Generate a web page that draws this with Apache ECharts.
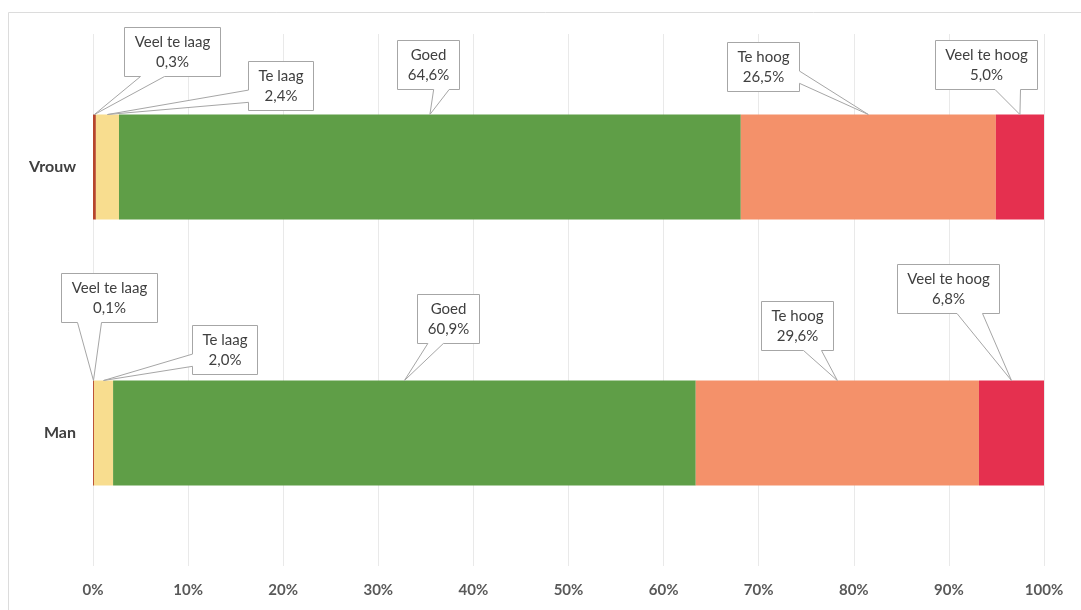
<!DOCTYPE html>
<html>
<head>
<meta charset="utf-8">
<script src="https://cdn.jsdelivr.net/npm/echarts@6/dist/echarts.min.js"></script>
<style>
  html, body { margin: 0; padding: 0; background: #ffffff; }
  #chart { width: 1081px; height: 610px; }
</style>
</head>
<body>
<div id="chart"></div>
<script>
// Share of respondents per level, by sex (percent)
const categories = ['Vrouw', 'Man'];
const levels = ['Veel te laag', 'Te laag', 'Goed', 'Te hoog', 'Veel te hoog'];
const vrouw = [0.3, 2.4, 64.6, 26.5, 5.0];
const man = [0.1, 2.0, 60.9, 29.6, 6.8];
const rows = [vrouw, man];

const levelColors = ['#b6452c', '#f8dd8f', '#5f9e47', '#f4916a', '#e5304f'];

// Callout box centre, relative to the pointer tip on the bar (px): [dx, dy]
const calloutOffsets = [
  [[78, -63], [173, -29], [-2, -50], [-105, -48], [-34, -50]],
  [[16, -83], [121, -31], [44, -62], [-40, -55], [-63, -92]]
];

const BAR_WIDTH = 105;
const LABEL_FONT = '15px Lato';

// Each row is drawn as a 100% stacked bar
function shares(row) {
  const total = row.reduce((a, b) => a + b, 0);
  return row.map(v => v / total * 100);
}
const rowShares = rows.map(shares);

function fmt(v) {
  return v.toFixed(1).replace('.', ',') + '%';
}

const chart = echarts.init(document.getElementById('chart'), null, { renderer: 'canvas' });

chart.setOption({
  animation: false,
  backgroundColor: '#ffffff',
  grid: { left: 93, right: 37, top: 34, bottom: 44, containLabel: false },
  xAxis: {
    type: 'value',
    min: 0,
    max: 100,
    interval: 10,
    axisLine: { show: false },
    axisTick: { show: false },
    splitLine: { show: true, lineStyle: { color: '#e9e9e9', width: 1 } },
    axisLabel: {
      formatter: '{value}%',
      color: '#595959',
      fontFamily: 'Lato',
      fontWeight: 'bold',
      fontSize: 15,
      margin: 17
    }
  },
  yAxis: {
    type: 'category',
    inverse: true,
    data: categories,
    axisLine: { show: false },
    axisTick: { show: false },
    axisLabel: {
      color: '#404040',
      fontFamily: 'Lato',
      fontWeight: 'bold',
      fontSize: 16,
      margin: 17
    }
  },
  series: levels.map((name, i) => ({
    name: name,
    type: 'bar',
    stack: 'total',
    barWidth: BAR_WIDTH,
    itemStyle: { color: levelColors[i] },
    data: rowShares.map(s => s[i])
  }))
});

// Rectangle callout with a wedge pointing at (tipX, tipY)
function calloutPoints(l, t, w, h, tipX, tipY) {
  const r = l + w, b = t + h;
  const hc = l + w / 2, vc = t + h / 2;
  const dx = tipX - hc, dy = tipY - vc;
  const vertical = Math.abs(dy) - Math.abs(dx * h / w) > 0;
  const x1 = l + w * (dx > 0 ? 7 : 2) / 12, x2 = l + w * (dx > 0 ? 10 : 5) / 12;
  const y1 = t + h * (dy > 0 ? 7 : 2) / 12, y2 = t + h * (dy > 0 ? 10 : 5) / 12;
  const tip = [tipX, tipY];
  const pts = [[l, t]];
  if (vertical && dy < 0) pts.push([x1, t], tip, [x2, t]);
  pts.push([r, t]);
  if (!vertical && dx > 0) pts.push([r, y1], tip, [r, y2]);
  pts.push([r, b]);
  if (vertical && dy > 0) pts.push([x2, b], tip, [x1, b]);
  pts.push([l, b]);
  if (!vertical && dx < 0) pts.push([l, y2], tip, [l, y1]);
  return pts;
}

const measureCtx = document.createElement('canvas').getContext('2d');
measureCtx.font = LABEL_FONT;
function textWidth(s) { return measureCtx.measureText(s).width; }

const elements = [
  {
    type: 'rect',
    silent: true,
    z: 0,
    shape: { x: 8.5, y: 12.5, width: 1200, height: 700 },
    style: { fill: 'none', stroke: '#dcdcdc', lineWidth: 1 }
  }
];

rows.forEach((row, r) => {
  let start = 0;
  row.forEach((v, i) => {
    const share = rowShares[r][i];
    const mid = start + share / 2;
    start += share;
    const p = chart.convertToPixel({ xAxisIndex: 0, yAxisIndex: 0 }, [mid, r]);
    const tipX = p[0];
    const tipY = p[1] - BAR_WIDTH / 2;
    const lines = [levels[i], fmt(v)];
    const w = Math.round(Math.max(textWidth(lines[0]), textWidth(lines[1])) + 20);
    const h = 49;
    const off = calloutOffsets[r][i];
    const l = Math.round(tipX + off[0] - w / 2) + 0.5;
    const t = Math.round(tipY + off[1] - h / 2) + 0.5;
    elements.push({
      type: 'polygon',
      z: 10,
      silent: true,
      shape: { points: calloutPoints(l, t, w, h, tipX, tipY) },
      style: { fill: '#ffffff', stroke: '#a6a6a6', lineWidth: 1 }
    });
    elements.push({
      type: 'text',
      z: 11,
      silent: true,
      x: l + w / 2,
      y: t + h / 2,
      style: {
        text: lines.join('\n'),
        font: LABEL_FONT,
        fill: '#404040',
        textAlign: 'center',
        textVerticalAlign: 'middle',
        lineHeight: 20
      }
    });
  });
});

chart.setOption({ graphic: { elements: elements } });
</script>
</body>
</html>
